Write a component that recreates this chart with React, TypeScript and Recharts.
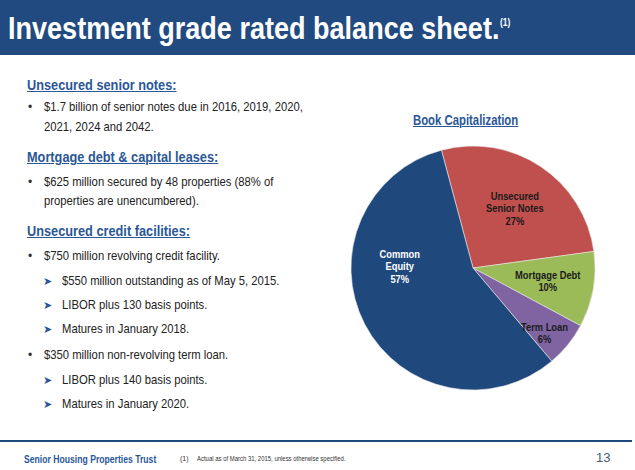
import { PieChart, Pie, Cell } from "recharts";

const sliceNames = ["Unsecured Senior Notes", "Mortgage Debt", "Term Loan", "Common Equity"];
const sliceValues = [27, 10, 6, 57];
const sliceLabelLines = [
  ["Unsecured", "Senior Notes", "27%"],
  ["Mortgage Debt", "10%"],
  ["Term Loan", "6%"],
  ["Common", "Equity", "57%"],
];

const colors = ["#C0504D", "#9BBB59", "#8064A2", "#1F497D"];
const labelColors = ["#1a1a1a", "#1a1a1a", "#1a1a1a", "#ffffff"];
// label placement: radius ratio and angle shift (deg) from the slice middle
const labelPlace = [
  { r: 0.59, shift: -7 },
  { r: 0.67, shift: -2.5 },
  { r: 0.85, shift: -3.5 },
  { r: 0.56, shift: -25 },
];

const data = sliceNames.map((name, i) => ({ name, value: sliceValues[i] }));

const FONT = "'Liberation Sans', Arial, sans-serif";
const BLUE = "#1F497D";
const HEAD = "#2B5797";

const RAD = Math.PI / 180;

function renderLabel(props: any) {
  const { cx, cy, midAngle, outerRadius, index } = props;
  const p = labelPlace[index];
  const a = (midAngle + p.shift) * RAD;
  const r = outerRadius * p.r;
  const x = cx + r * Math.cos(a) - 5;
  const y = cy - r * Math.sin(a);
  const lines = sliceLabelLines[index];
  const lh = 12.5;
  const y0 = y - ((lines.length - 1) * lh) / 2 - 1;
  return (
    <g transform={`translate(${x},${y0}) scale(0.85,1)`}>
      <text
        x={0}
        y={0}
        textAnchor="middle"
        fill={labelColors[index]}
        fontFamily={FONT}
        fontWeight="bold"
        fontSize={11}
      >
        {lines.map((l, k) => (
          <tspan key={k} x={0} y={k * lh}>
            {l}
          </tspan>
        ))}
      </text>
    </g>
  );
}

type Line = { kind: "head" | "bullet" | "cont" | "arrow"; text: string; y: number };

const bodyLines: Line[] = [
  { kind: "head", text: "Unsecured senior notes:", y: 86 },
  { kind: "bullet", text: "$1.7 billion of senior notes due in 2016, 2019, 2020,", y: 107 },
  { kind: "cont", text: "2021, 2024 and 2042.", y: 127 },
  { kind: "head", text: "Mortgage debt & capital leases:", y: 158 },
  { kind: "bullet", text: "$625 million secured by 48 properties (88% of", y: 182 },
  { kind: "cont", text: "properties are unencumbered).", y: 201 },
  { kind: "head", text: "Unsecured credit facilities:", y: 232 },
  { kind: "bullet", text: "$750 million revolving credit facility.", y: 256 },
  { kind: "arrow", text: "$550 million outstanding as of May 5, 2015.", y: 281 },
  { kind: "arrow", text: "LIBOR plus 130 basis points.", y: 305 },
  { kind: "arrow", text: "Matures in January 2018.", y: 329 },
  { kind: "bullet", text: "$350 million non-revolving term loan.", y: 355 },
  { kind: "arrow", text: "LIBOR plus 140 basis points.", y: 380 },
  { kind: "arrow", text: "Matures in January 2020.", y: 404 },
];

const narrow = (s: number) => ({ transform: `scaleX(${s})`, transformOrigin: "left center" });

export default function App() {
  return (
    <div
      style={{
        position: "absolute",
        left: 0,
        top: 0,
        width: 635,
        height: 470,
        background: "#fff",
        overflow: "hidden",
        fontFamily: FONT,
      }}
    >
      <div
        style={{
          position: "absolute",
          left: 0,
          top: 0,
          width: 635,
          height: 55,
          background: "#214A80",
        }}
      />
      <div
        style={{
          position: "absolute",
          left: 8,
          top: 8,
          color: "#fff",
          fontWeight: "bold",
          fontSize: 32,
          lineHeight: "40px",
          whiteSpace: "nowrap",
          ...narrow(0.845),
        }}
      >
        Investment grade rated balance sheet.
      </div>
      <div
        style={{
          position: "absolute",
          left: 500,
          top: 17,
          color: "#fff",
          fontWeight: "bold",
          fontSize: 10,
          lineHeight: "12px",
          ...narrow(0.85),
        }}
      >
        (1)
      </div>

      {bodyLines.map((l, i) => {
        if (l.kind === "head") {
          return (
            <div
              key={i}
              style={{
                position: "absolute",
                left: 27,
                top: l.y - 10,
                color: HEAD,
                fontWeight: "bold",
                fontSize: 15,
                lineHeight: "18px",
                textDecoration: "underline",
                whiteSpace: "nowrap",
                ...narrow(0.85),
              }}
            >
              {l.text}
            </div>
          );
        }
        const left = l.kind === "arrow" ? 62 : 44;
        return (
          <div key={i}>
            {l.kind === "bullet" && (
              <div style={{ position: "absolute", left: 28, top: l.y - 9, fontSize: 12, lineHeight: "18px", color: "#333" }}>
                •
              </div>
            )}
            {l.kind === "arrow" && (
              <div style={{ position: "absolute", left: 43, top: l.y - 9, fontSize: 11, lineHeight: "18px", color: HEAD }}>
                ➤
              </div>
            )}
            <div
              style={{
                position: "absolute",
                left,
                top: l.y - 9,
                fontSize: 13.5,
                lineHeight: "18px",
                color: "#222",
                whiteSpace: "nowrap",
                ...narrow(0.835),
              }}
            >
              {l.text}
            </div>
          </div>
        );
      })}

      <div
        style={{
          position: "absolute",
          left: 413,
          top: 111,
          color: HEAD,
          fontWeight: "bold",
          fontSize: 14,
          lineHeight: "18px",
          textDecoration: "underline",
          whiteSpace: "nowrap",
          ...narrow(0.81),
        }}
      >
        Book Capitalization
      </div>

      <div style={{ position: "absolute", left: 0, top: 0 }}>
        <PieChart width={635} height={470}>
          <Pie
            data={data}
            dataKey="value"
            nameKey="name"
            cx={468}
            cy={263}
            outerRadius={122}
            startAngle={105}
            endAngle={-255}
            stroke="#e8e8e8"
            strokeWidth={0.6}
            labelLine={false}
            label={renderLabel}
            isAnimationActive={false}
          >
            {data.map((d, i) => (
              <Cell key={d.name} fill={colors[i]} />
            ))}
          </Pie>
        </PieChart>
      </div>

      <div style={{ position: "absolute", left: 0, top: 440, width: 632, height: 2, background: BLUE }} />
      <div
        style={{
          position: "absolute",
          left: 24,
          top: 451,
          color: HEAD,
          fontWeight: "bold",
          fontSize: 11.5,
          lineHeight: "16px",
          whiteSpace: "nowrap",
          ...narrow(0.75),
        }}
      >
        Senior Housing Properties Trust
      </div>
      <div
        style={{
          position: "absolute",
          left: 180,
          top: 454,
          color: "#333",
          fontSize: 7,
          lineHeight: "10px",
          whiteSpace: "nowrap",
        }}
      >
        (1)
      </div>
      <div
        style={{
          position: "absolute",
          left: 197,
          top: 454,
          color: "#333",
          fontSize: 7,
          lineHeight: "10px",
          whiteSpace: "nowrap",
          ...narrow(0.85),
        }}
      >
        Actual as of March 31, 2015, unless otherwise specified.
      </div>
      <div
        style={{
          position: "absolute",
          left: 596,
          top: 450,
          color: "#4a5a70",
          fontSize: 13,
          lineHeight: "16px",
        }}
      >
        13
      </div>
    </div>
  );
}
